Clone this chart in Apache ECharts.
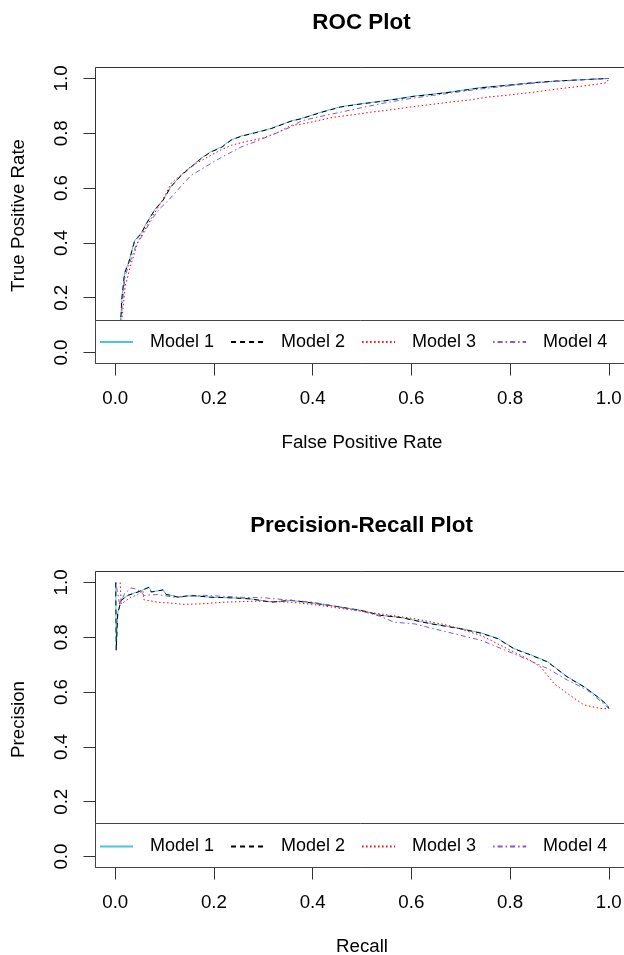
<!DOCTYPE html>
<html><head><meta charset="utf-8">
<script src="https://cdn.jsdelivr.net/npm/echarts@6/dist/echarts.min.js"></script>
<style>html,body{margin:0;padding:0;background:#fff}#c{width:624px;height:955px}</style>
</head><body><div id="c"></div>
<script>
const modelNames = ['Model 1', 'Model 2', 'Model 3', 'Model 4'];
const tickValues = [0, 0.2, 0.4, 0.6, 0.8, 1.0];

// ROC curves: false positive rate / true positive rate
const roc1Fpr = [0, 0.008, 0.012, 0.013, 0.019, 0.027, 0.039, 0.053, 0.063, 0.080, 0.097, 0.113, 0.134, 0.154, 0.174, 0.194, 0.215, 0.235, 0.255, 0.282, 0.316, 0.356, 0.377, 0.417, 0.457, 0.498, 0.538, 0.572, 0.606, 0.643, 0.680, 0.741, 0.808, 0.850, 0.889, 0.940, 0.975, 1.0];
const roc1Tpr = [0, 0.08, 0.14, 0.19, 0.292, 0.328, 0.407, 0.437, 0.472, 0.521, 0.557, 0.606, 0.648, 0.679, 0.709, 0.733, 0.750, 0.776, 0.790, 0.802, 0.818, 0.845, 0.854, 0.877, 0.897, 0.908, 0.917, 0.926, 0.936, 0.943, 0.951, 0.967, 0.978, 0.985, 0.990, 0.995, 0.998, 1.0];
const roc2Fpr = [0, 0.008, 0.012, 0.013, 0.019, 0.027, 0.039, 0.053, 0.063, 0.080, 0.097, 0.113, 0.134, 0.154, 0.174, 0.194, 0.215, 0.235, 0.255, 0.282, 0.316, 0.356, 0.377, 0.417, 0.457, 0.498, 0.538, 0.572, 0.606, 0.643, 0.680, 0.741, 0.808, 0.850, 0.889, 0.940, 0.975, 1.0];
const roc2Tpr = [0, 0.08, 0.14, 0.19, 0.29, 0.326, 0.405, 0.435, 0.47, 0.52, 0.556, 0.605, 0.647, 0.677, 0.708, 0.732, 0.748, 0.775, 0.789, 0.801, 0.817, 0.844, 0.853, 0.876, 0.896, 0.907, 0.916, 0.925, 0.935, 0.942, 0.950, 0.966, 0.977, 0.985, 0.990, 0.995, 0.998, 1.0];
const roc3Fpr = [0, 0.010, 0.014, 0.020, 0.030, 0.046, 0.060, 0.080, 0.097, 0.113, 0.134, 0.154, 0.174, 0.194, 0.215, 0.235, 0.265, 0.296, 0.326, 0.356, 0.377, 0.410, 0.444, 0.480, 0.518, 0.560, 0.599, 0.640, 0.680, 0.720, 0.754, 0.800, 0.849, 0.880, 0.916, 0.950, 0.984, 0.996, 1.0];
const roc3Tpr = [0, 0.07, 0.13, 0.24, 0.31, 0.405, 0.45, 0.51, 0.56, 0.617, 0.65, 0.68, 0.70, 0.72, 0.74, 0.756, 0.77, 0.781, 0.80, 0.829, 0.833, 0.846, 0.859, 0.867, 0.877, 0.886, 0.896, 0.905, 0.914, 0.922, 0.932, 0.940, 0.950, 0.958, 0.966, 0.973, 0.981, 0.985, 1.0];
const roc4Fpr = [0, 0.010, 0.013, 0.020, 0.030, 0.042, 0.056, 0.073, 0.090, 0.105, 0.120, 0.140, 0.154, 0.174, 0.194, 0.215, 0.235, 0.255, 0.285, 0.316, 0.356, 0.377, 0.417, 0.457, 0.498, 0.538, 0.572, 0.606, 0.643, 0.680, 0.741, 0.808, 0.850, 0.889, 0.940, 0.975, 1.0];
const roc4Tpr = [0, 0.09, 0.15, 0.28, 0.33, 0.39, 0.43, 0.483, 0.525, 0.55, 0.58, 0.62, 0.647, 0.668, 0.69, 0.712, 0.731, 0.75, 0.77, 0.793, 0.823, 0.845, 0.862, 0.877, 0.893, 0.908, 0.919, 0.929, 0.938, 0.947, 0.962, 0.975, 0.983, 0.989, 0.994, 0.998, 1.0];

// Precision-recall curves
const pr1Recall = [0.001, 0.002, 0.002, 0.005, 0.012, 0.026, 0.046, 0.069, 0.073, 0.097, 0.103, 0.113, 0.127, 0.154, 0.194, 0.235, 0.275, 0.316, 0.356, 0.400, 0.450, 0.500, 0.538, 0.579, 0.640, 0.700, 0.741, 0.775, 0.808, 0.842, 0.876, 0.916, 0.950, 0.977, 0.997, 1.0];
const pr1Precision = [1.0, 1.0, 0.755, 0.888, 0.936, 0.954, 0.966, 0.982, 0.966, 0.972, 0.957, 0.953, 0.947, 0.952, 0.946, 0.944, 0.940, 0.929, 0.934, 0.925, 0.912, 0.898, 0.880, 0.872, 0.850, 0.832, 0.816, 0.796, 0.759, 0.736, 0.711, 0.656, 0.620, 0.584, 0.553, 0.54];
const pr2Recall = [0.001, 0.002, 0.002, 0.005, 0.012, 0.026, 0.046, 0.069, 0.073, 0.097, 0.103, 0.113, 0.127, 0.154, 0.194, 0.235, 0.275, 0.316, 0.356, 0.400, 0.450, 0.500, 0.538, 0.579, 0.640, 0.700, 0.741, 0.775, 0.808, 0.842, 0.876, 0.916, 0.950, 0.977, 0.997, 1.0];
const pr2Precision = [1.0, 1.0, 0.753, 0.886, 0.935, 0.953, 0.965, 0.983, 0.965, 0.973, 0.956, 0.953, 0.946, 0.953, 0.946, 0.944, 0.940, 0.928, 0.935, 0.925, 0.912, 0.897, 0.880, 0.872, 0.849, 0.831, 0.815, 0.795, 0.758, 0.735, 0.710, 0.655, 0.619, 0.583, 0.553, 0.54];
const pr3Recall = [0.010, 0.012, 0.012, 0.019, 0.030, 0.045, 0.056, 0.058, 0.086, 0.110, 0.140, 0.174, 0.221, 0.289, 0.356, 0.400, 0.450, 0.500, 0.538, 0.606, 0.673, 0.741, 0.788, 0.835, 0.862, 0.889, 0.916, 0.950, 0.984, 1.0];
const pr3Precision = [1.0, 1.0, 0.922, 0.93, 0.945, 0.955, 0.971, 0.937, 0.928, 0.925, 0.920, 0.922, 0.928, 0.932, 0.928, 0.920, 0.907, 0.895, 0.885, 0.868, 0.844, 0.807, 0.764, 0.722, 0.692, 0.631, 0.595, 0.553, 0.540, 0.540];
const pr4Recall = [0.002, 0.003, 0.009, 0.019, 0.032, 0.045, 0.059, 0.086, 0.120, 0.181, 0.255, 0.302, 0.356, 0.400, 0.450, 0.500, 0.538, 0.565, 0.606, 0.673, 0.741, 0.808, 0.876, 0.916, 0.957, 0.997, 1.0];
const pr4Precision = [1.0, 0.98, 0.92, 0.959, 0.98, 0.975, 0.953, 0.956, 0.946, 0.953, 0.946, 0.944, 0.935, 0.928, 0.912, 0.895, 0.876, 0.855, 0.849, 0.819, 0.789, 0.74, 0.686, 0.644, 0.607, 0.546, 0.54];

const F = "'Liberation Sans', Arial, sans-serif";
const FS = 18.7;
const styles = [
  { color: '#4CC4DC', type: 'solid' },
  { color: '#000000', type: [5, 4] },
  { color: '#FF0000', type: [1.5, 2.5] },
  { color: '#8855CC', type: [1.5, 3, 5, 3] }
];
function zip(a, b) { return a.map((v, i) => [v, b[i]]); }
function mk(idx, data, gi) {
  return {
    name: modelNames[idx], type: 'line', xAxisIndex: gi, yAxisIndex: gi, data: data,
    symbol: 'none', showSymbol: false, silent: true, animation: false,
    lineStyle: { color: styles[idx].color, width: 1, type: styles[idx].type },
    itemStyle: { color: styles[idx].color }
  };
}
function xAx(gi, name, gap) {
  return {
    type: 'value', gridIndex: gi, min: -0.04, max: 1.04, position: 'bottom',
    name: name, nameLocation: 'middle', nameGap: gap,
    nameTextStyle: { fontSize: FS, color: '#000', fontFamily: F },
    axisLine: { show: false, onZero: false }, splitLine: { show: false },
    axisTick: { show: true, customValues: tickValues, length: 12, lineStyle: { color: '#333', width: 1 } },
    axisLabel: { customValues: tickValues, formatter: v => v.toFixed(1), margin: 25.5, fontSize: FS, color: '#000', fontFamily: F }
  };
}
function yAx(gi, name, gap) {
  return {
    type: 'value', gridIndex: gi, min: -0.04, max: 1.04, position: 'left',
    name: name, nameLocation: 'middle', nameGap: gap, nameRotate: 90,
    nameTextStyle: { fontSize: FS, color: '#000', fontFamily: F },
    axisLine: { show: false, onZero: false }, splitLine: { show: false },
    axisTick: { show: true, customValues: tickValues, length: 12, lineStyle: { color: '#333', width: 1 } },
    axisLabel: { customValues: tickValues, formatter: v => v.toFixed(1), margin: 24, rotate: 90, fontSize: FS, color: '#000', fontFamily: F }
  };
}
function legendAt(top) {
  return {
    data: modelNames, left: 99, top: top, orient: 'horizontal',
    itemWidth: 33, itemHeight: 18, itemGap: 16, padding: 0, selectedMode: false, z: 20,
    itemStyle: { color: 'rgba(0,0,0,0)', borderWidth: 0, opacity: 0 },
    textStyle: { fontSize: 18, color: '#000', fontFamily: F, padding: [0, 0, 0, 12] }
  };
}

const chart = echarts.init(document.getElementById('c'), null, { renderer: 'canvas' });
chart.setOption({
  backgroundColor: '#fff',
  animation: false,
  title: [
    { text: 'ROC Plot', left: 361.5, top: 12, padding: 0, textAlign: 'center', textStyle: { fontSize: 22.4, fontWeight: 'bold', color: '#000', fontFamily: F } },
    { text: 'Precision-Recall Plot', left: 361.5, top: 515, padding: 0, textAlign: 'center', textStyle: { fontSize: 22.4, fontWeight: 'bold', color: '#000', fontFamily: F } }
  ],
  grid: [
    { left: 95.5, top: 67.5, width: 533, height: 296, outerBoundsMode: 'none', containLabel: false, show: true, borderColor: '#333', borderWidth: 1, backgroundColor: 'transparent' },
    { left: 95.5, top: 571.5, width: 533, height: 296, outerBoundsMode: 'none', containLabel: false, show: true, borderColor: '#333', borderWidth: 1, backgroundColor: 'transparent' }
  ],
  xAxis: [xAx(0, 'False Positive Rate', 69.5), xAx(1, 'Recall', 69.5)],
  yAxis: [yAx(0, 'True Positive Rate', 67.5), yAx(1, 'Precision', 67.5)],
  legend: [legendAt(333), legendAt(837.5)],
  graphic: [
    { type: 'rect', z: 10, silent: true, shape: { x: 95.5, y: 320.5, width: 560, height: 43 }, style: { fill: '#fff', stroke: '#444', lineWidth: 1 } },
    { type: 'rect', z: 10, silent: true, shape: { x: 95.5, y: 823.5, width: 560, height: 44 }, style: { fill: '#fff', stroke: '#444', lineWidth: 1 } }
  ],
  series: [
    mk(0, zip(roc1Fpr, roc1Tpr), 0),
    mk(1, zip(roc2Fpr, roc2Tpr), 0),
    mk(2, zip(roc3Fpr, roc3Tpr), 0),
    mk(3, zip(roc4Fpr, roc4Tpr), 0),
    mk(0, zip(pr1Recall, pr1Precision), 1),
    mk(1, zip(pr2Recall, pr2Precision), 1),
    mk(2, zip(pr3Recall, pr3Precision), 1),
    mk(3, zip(pr4Recall, pr4Precision), 1)
  ]
});
</script>
</body></html>
